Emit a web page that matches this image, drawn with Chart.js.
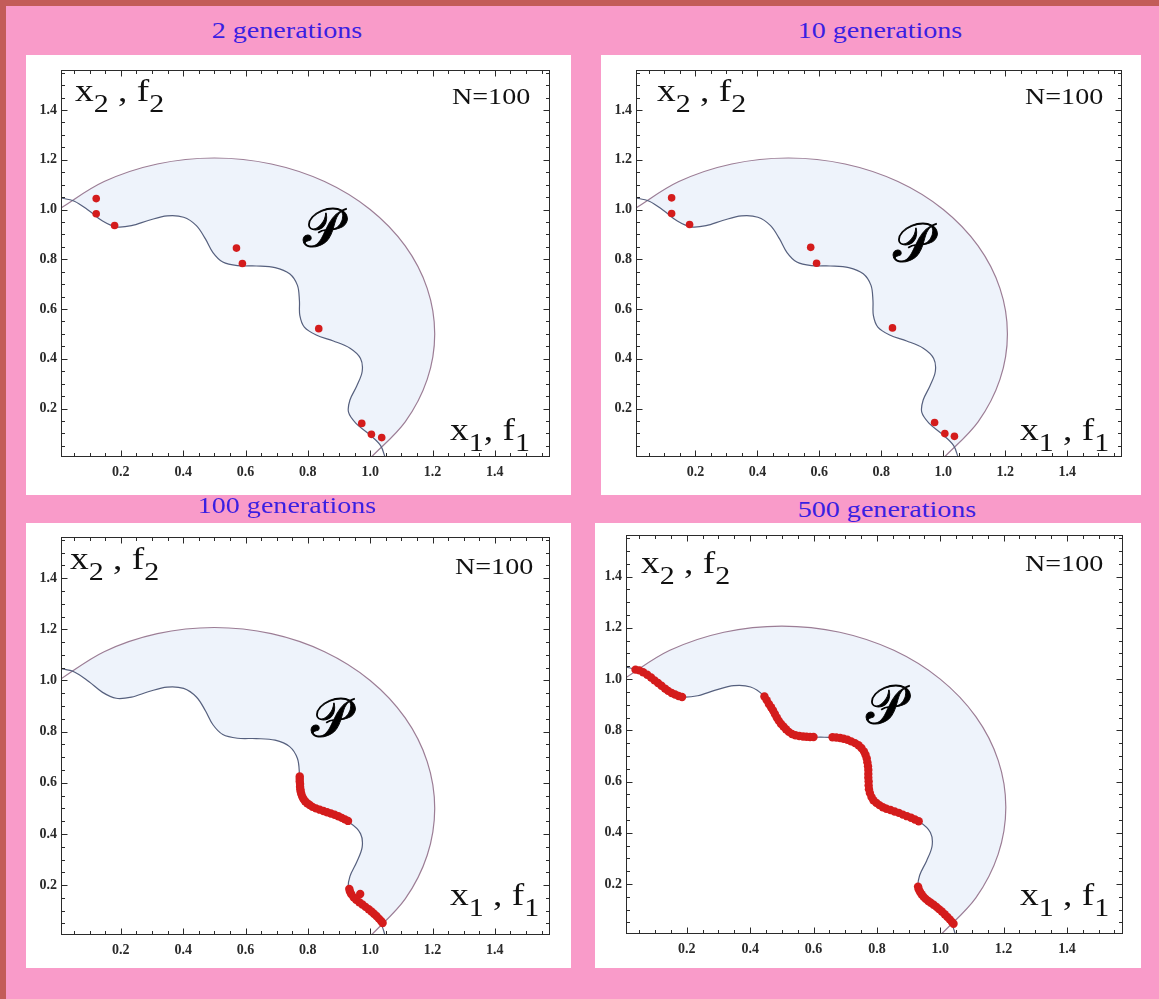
<!DOCTYPE html>
<html><head><meta charset="utf-8">
<script src="https://cdn.jsdelivr.net/npm/chart.js@4.4.0/dist/chart.umd.min.js"></script>
<style>
html,body{margin:0;padding:0;}
body{width:1159px;height:999px;background:#f99bc9;position:relative;overflow:hidden;font-family:'Liberation Serif','Times New Roman',serif;}
#topbar{position:absolute;left:0;top:0;width:1159px;height:6px;background:#c35c58;}
#leftbar{position:absolute;left:0;top:0;width:6px;height:999px;background:#c35c58;}
.box{position:absolute;background:#fff;}
.box canvas{position:absolute;left:0;top:0;}
.title{position:absolute;color:#3a1fe2;font-size:24px;white-space:nowrap;line-height:1;transform:translateX(-50%) scaleX(1.17);transform-origin:center top;}
.lbl{position:absolute;color:#111;white-space:nowrap;line-height:1;transform:scaleX(1.17);transform-origin:left top;}
.big{font-size:32px;}
.nn{font-size:24px;}
.sub{font-size:0.8em;position:relative;top:0.42em;}
.pp{position:absolute;font-size:54px;line-height:1;color:#000;-webkit-text-stroke:0.9px #000;font-family:'DejaVu Serif','Liberation Serif',serif;transform:translate(-50%,-50%);}
</style>
</head><body>
<div id="topbar"></div><div id="leftbar"></div>
<script>
// ---------- data ----------
const panelTitles = ['2 generations', '10 generations', '100 generations', '500 generations'];
const tickValues = [0.2, 0.4, 0.6, 0.8, 1.0, 1.2, 1.4];
const xRange = [0.008, 1.577];
const yRange = [0.005, 1.561];

// inner constraint boundary (wavy curve)
const innerX = [0, 0.0508, 0.0980, 0.1414, 0.1851, 0.2342, 0.2903, 0.3486, 0.4014, 0.4424, 0.4714, 0.4956, 0.5271, 0.5743, 0.6344, 0.6949, 0.7416, 0.7667, 0.7730, 0.7743, 0.7888, 0.8269, 0.8819, 0.9354, 0.9690, 0.9743, 0.9569, 0.9351, 0.9305, 0.9536, 0.9952, 1.0335, 1.0488];
const innerY = [1.0488, 1.0335, 0.9952, 0.9536, 0.9305, 0.9351, 0.9569, 0.9743, 0.9690, 0.9354, 0.8819, 0.8269, 0.7888, 0.7743, 0.7730, 0.7667, 0.7416, 0.6949, 0.6344, 0.5743, 0.5271, 0.4956, 0.4714, 0.4424, 0.4014, 0.3486, 0.2903, 0.2342, 0.1851, 0.1414, 0.0980, 0.0508, 0];

// outer constraint boundary (arc)
const arcX = [0, 0.1464, 0.3170, 0.5, 0.6830, 0.8536, 1.0, 1.1124, 1.1830, 1.2071, 1.1830, 1.1124, 1.0];
const arcY = [1.0, 1.1124, 1.1830, 1.2071, 1.1830, 1.1124, 1.0, 0.8536, 0.6830, 0.5, 0.3170, 0.1464, 0.0];

// feasible region P outline (arc part then inner curve back)
const regionX = [0.040, 0.1464, 0.3170, 0.5, 0.6830, 0.8536, 1.0, 1.1124, 1.1830, 1.2071, 1.1830, 1.1124, 1.037, 1.0335, 0.9952, 0.9536, 0.9305, 0.9351, 0.9569, 0.9743, 0.9690, 0.9354, 0.8819, 0.8269, 0.7888, 0.7743, 0.7730, 0.7667, 0.7416, 0.6949, 0.6344, 0.5743, 0.5271, 0.4956, 0.4714, 0.4424, 0.4014, 0.3486, 0.2903, 0.2342, 0.1851, 0.1414, 0.0980, 0.0508];
const regionY = [1.037, 1.1124, 1.1830, 1.2071, 1.1830, 1.1124, 1.0, 0.8536, 0.6830, 0.5, 0.3170, 0.1464, 0.040, 0.0508, 0.0980, 0.1414, 0.1851, 0.2342, 0.2903, 0.3486, 0.4014, 0.4424, 0.4714, 0.4956, 0.5271, 0.5743, 0.6344, 0.6949, 0.7416, 0.7667, 0.7730, 0.7743, 0.7888, 0.8269, 0.8819, 0.9354, 0.9690, 0.9743, 0.9569, 0.9351, 0.9305, 0.9536, 0.9952, 1.0335];

// population after 2 generations
const gen2X = [0.121, 0.121, 0.180, 0.571, 0.590, 0.835, 0.973, 1.004, 1.037];
const gen2Y = [1.044, 0.983, 0.936, 0.845, 0.783, 0.521, 0.140, 0.096, 0.083];
// population after 10 generations
const gen10X = [0.123, 0.123, 0.181, 0.572, 0.591, 0.836, 0.972, 1.005, 1.036];
const gen10Y = [1.047, 0.984, 0.940, 0.848, 0.784, 0.524, 0.144, 0.099, 0.088];
// population after 100 generations
const gen100X = [0.774, 0.774, 0.774, 0.775, 0.775, 0.776, 0.777, 0.779, 0.782, 0.786, 0.791, 0.798, 0.806, 0.815, 0.826, 0.838, 0.850, 0.862, 0.874, 0.886, 0.898, 0.909, 0.919, 0.929,
                 0.933, 0.935, 0.939, 0.968, 0.947, 0.955, 0.965, 0.975, 0.985, 0.995, 1.004, 1.012, 1.020, 1.028, 1.035, 1.040];
const gen100Y = [0.625, 0.615, 0.605, 0.595, 0.585, 0.575, 0.566, 0.556, 0.546, 0.537, 0.528, 0.520, 0.513, 0.506, 0.500, 0.495, 0.490, 0.485, 0.480, 0.475, 0.469, 0.463, 0.457, 0.451,
                 0.185, 0.175, 0.165, 0.165, 0.152, 0.143, 0.133, 0.124, 0.115, 0.106, 0.097, 0.088, 0.079, 0.069, 0.060, 0.052];
// population after 500 generations
const gen500X = [0.038, 0.050, 0.062, 0.075, 0.087, 0.098, 0.109, 0.120, 0.131, 0.141, 0.152, 0.163, 0.174, 0.185,
                 0.445, 0.452, 0.459, 0.466, 0.472, 0.478, 0.484, 0.490, 0.497, 0.505, 0.513, 0.522, 0.532, 0.543, 0.555, 0.567, 0.578, 0.589, 0.600,
                 0.660, 0.672, 0.684, 0.695, 0.707, 0.719, 0.731, 0.742, 0.751, 0.759, 0.764, 0.768, 0.770, 0.772, 0.773, 0.773, 0.773, 0.774, 0.774, 0.775, 0.778, 0.783, 0.789, 0.798, 0.808, 0.819, 0.830, 0.843, 0.856, 0.869, 0.882, 0.895, 0.908, 0.920, 0.932,
                 0.930, 0.932, 0.936, 0.941, 0.947, 0.954, 0.962, 0.970, 0.979, 0.988, 0.996, 1.005, 1.014, 1.022, 1.030, 1.037, 1.042];
const gen500Y = [1.037, 1.034, 1.027, 1.017, 1.006, 0.995, 0.985, 0.974, 0.963, 0.954, 0.946, 0.940, 0.934, 0.930,
                 0.932, 0.918, 0.903, 0.890, 0.878, 0.864, 0.850, 0.838, 0.826, 0.815, 0.804, 0.794, 0.786, 0.781, 0.778, 0.776, 0.775, 0.774, 0.774,
                 0.773, 0.772, 0.770, 0.767, 0.763, 0.757, 0.750, 0.742, 0.731, 0.718, 0.705, 0.690, 0.675, 0.660, 0.645, 0.630, 0.615, 0.600, 0.585, 0.570, 0.555, 0.540, 0.527, 0.517, 0.508, 0.500, 0.494, 0.489, 0.483, 0.478, 0.471, 0.465, 0.459, 0.452, 0.445,
                 0.190, 0.180, 0.170, 0.160, 0.151, 0.142, 0.134, 0.127, 0.119, 0.111, 0.102, 0.093, 0.082, 0.072, 0.062, 0.052, 0.045];

// ---------- layout ----------
const panels = [
  {box:[26,55,545,440], plot:[61,70,550,457], title:[287,18], dx:gen2X, dy:gen2Y, r:3.8,
   x2:[75,101], nn:[452,104], x1:[450,440], x1sep:'', P:[322,228]},
  {box:[601,55,540,440], plot:[636,70,1122,457], title:[880,18], dx:gen10X, dy:gen10Y, r:3.8,
   x2:[657,101], nn:[1025,104], x1:[1020,440], x1sep:' ', P:[912,243]},
  {box:[26,523,545,445], plot:[61,537,550,935], title:[287,493], dx:gen100X, dy:gen100Y, r:4.2,
   x2:[70,569], nn:[455,574], x1:[450,905], x1sep:' ', P:[330,718]},
  {box:[595,523,546,445], plot:[626,535,1123,934], title:[887,497], dx:gen500X, dy:gen500Y, r:4.2,
   x2:[641,573], nn:[1025,571], x1:[1020,905], x1sep:' ', P:[885,705]}
];

const zip = (xs, ys) => xs.map((v, i) => ({x: v, y: ys[i]}));
const minorStep = 0.05;
const curveTension = 0.34;

const frameTicks = {
  id: 'frameTicks',
  afterDatasetsDraw(chart) {
    const {ctx, chartArea: a, scales: {x, y}} = chart;
    ctx.save();
    ctx.strokeStyle = '#2b2b2b';
    ctx.lineWidth = 1;
    const L = Math.round(a.left) + 0.5, R = Math.round(a.right) - 0.5;
    const T = Math.round(a.top) + 0.5, B = Math.round(a.bottom) - 0.5;
    ctx.strokeRect(L, T, R - L, B - T);
    ctx.beginPath();
    for (let k = 1; k * minorStep < xRange[1]; k++) {
      const v = k * minorStep;
      if (v < xRange[0]) continue;
      const len = (k % 4 === 0) ? 6 : 3.5;
      const px = Math.round(x.getPixelForValue(v)) + 0.5;
      ctx.moveTo(px, B); ctx.lineTo(px, B - len);
      ctx.moveTo(px, T); ctx.lineTo(px, T + len);
    }
    for (let k = 1; k * minorStep < yRange[1]; k++) {
      const v = k * minorStep;
      if (v < yRange[0]) continue;
      const len = (k % 4 === 0) ? 6 : 3.5;
      const py = Math.round(y.getPixelForValue(v)) + 0.5;
      ctx.moveTo(L, py); ctx.lineTo(L + len, py);
      ctx.moveTo(R, py); ctx.lineTo(R - len, py);
    }
    ctx.stroke();
    ctx.restore();
  }
};

function addText(cls, left, baseline, html, fs) {
  const d = document.createElement('div');
  d.className = cls;
  d.style.left = left + 'px';
  d.style.top = (baseline - 0.8375 * fs) + 'px';
  d.innerHTML = html;
  document.body.appendChild(d);
}

panels.forEach((p, i) => {
  const box = document.createElement('div');
  box.className = 'box';
  Object.assign(box.style, {left: p.box[0] + 'px', top: p.box[1] + 'px', width: p.box[2] + 'px', height: p.box[3] + 'px'});
  const cv = document.createElement('canvas');
  cv.width = p.box[2]; cv.height = p.box[3];
  box.appendChild(cv);
  document.body.appendChild(box);

  const padTop = p.plot[1] - p.box[1];
  const padRight = p.box[0] + p.box[2] - p.plot[2];
  const leftW = p.plot[0] - p.box[0];
  const bottomH = p.box[1] + p.box[3] - p.plot[3];
  const tickFont = {family: "'Liberation Serif', serif", size: 14, weight: 'bold'};

  new Chart(cv, {
    type: 'scatter',
    data: {datasets: [
      {label: 'population', data: zip(p.dx, p.dy), pointRadius: p.r, pointHoverRadius: p.r,
       pointBackgroundColor: '#d41c1c', pointBorderWidth: 0, pointBorderColor: '#d41c1c', showLine: false},
      {label: 'inner boundary', data: zip(innerX, innerY), showLine: true, borderColor: '#56607e',
       borderWidth: 1.2, pointRadius: 0, tension: curveTension, fill: false},
      {label: 'outer boundary', data: zip(arcX, arcY), showLine: true, borderColor: '#9c7d95',
       borderWidth: 1.2, pointRadius: 0, tension: curveTension, fill: false},
      {label: 'P', data: zip(regionX, regionY), showLine: true, borderColor: 'rgba(0,0,0,0)',
       borderWidth: 1, backgroundColor: '#eef3fb', fill: 'shape', pointRadius: 0, tension: curveTension}
    ]},
    options: {
      responsive: false, animation: false, devicePixelRatio: 1,
      layout: {padding: {left: 0, bottom: 0, top: padTop, right: padRight}},
      plugins: {legend: {display: false}, tooltip: {enabled: false}},
      scales: {
        x: {type: 'linear', position: 'bottom', min: xRange[0], max: xRange[1],
            grid: {display: false, drawTicks: false}, border: {display: false},
            ticks: {font: tickFont, color: '#2a2a2a', padding: 7, maxRotation: 0, callback: v => v.toFixed(1)},
            afterBuildTicks: s => { s.ticks = tickValues.map(v => ({value: v})); },
            afterFit: s => { s.height = bottomH; }},
        y: {type: 'linear', position: 'left', min: yRange[0], max: yRange[1],
            grid: {display: false, drawTicks: false}, border: {display: false},
            ticks: {font: tickFont, color: '#2a2a2a', padding: 4, callback: v => v.toFixed(1)},
            afterBuildTicks: s => { s.ticks = tickValues.map(v => ({value: v})); },
            afterFit: s => { s.width = leftW; }}
      }
    },
    plugins: [frameTicks]
  });

  const t = document.createElement('div');
  t.className = 'title';
  t.style.left = p.title[0] + 'px';
  t.style.top = p.title[1] + 'px';
  t.textContent = panelTitles[i];
  document.body.appendChild(t);

  addText('lbl big', p.x2[0], p.x2[1], 'x<span class="sub">2</span> , f<span class="sub">2</span>', 32);
  addText('lbl nn', p.nn[0], p.nn[1], 'N=100', 24);
  addText('lbl big', p.x1[0], p.x1[1], 'x<span class="sub">1</span>' + p.x1sep + ', f<span class="sub">1</span>', 32);

  const pp = document.createElement('div');
  pp.className = 'pp';
  pp.style.left = p.P[0] + 'px';
  pp.style.top = p.P[1] + 'px';
  pp.textContent = '\u{1D4AB}';
  document.body.appendChild(pp);
});
</script>
</body></html>
